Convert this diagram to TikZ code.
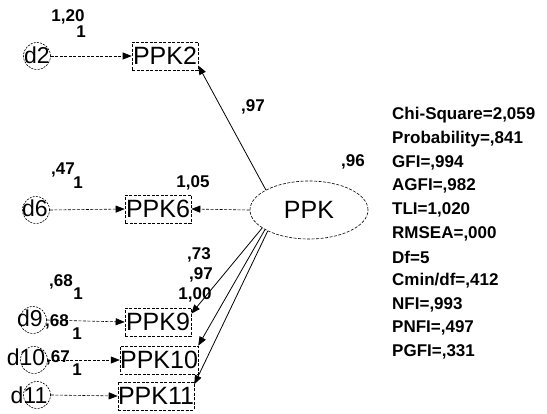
\documentclass[tikz,border=0pt]{standalone}
\usepackage{fontspec}
\setmainfont{Liberation Sans}
\usetikzlibrary{arrows.meta,shapes.geometric}
\begin{document}
\begin{tikzpicture}[x=1pt,y=-1pt,
  obs/.style={draw, dashed, dash pattern=on 3pt off 1.5pt, line width=0.6pt, inner sep=0pt,
    minimum width=66pt, minimum height=28pt, font=\fontsize{25}{25}\selectfont},
  errc/.style={draw, circle, dash pattern=on 2pt off 1.2pt, line width=0.6pt, inner sep=0pt, minimum size=27pt},
  errt/.style={inner sep=0pt, font=\fontsize{23}{23}\selectfont},
  lat/.style={draw, ellipse, dash pattern=on 3pt off 1.5pt, line width=0.6pt, fill=white, inner sep=0pt,
    minimum width=118pt, minimum height=58pt, font=\fontsize{25}{25}\selectfont},
  lbl/.style={inner sep=0pt, font=\bfseries\fontsize{17}{17}\selectfont},
  fit/.style={inner sep=0pt, anchor=west, font=\bfseries\fontsize{17}{17}\selectfont},
  tip/.style={-{Triangle[length=9pt,width=7pt]}},
  solidpath/.style={tip, line width=0.8pt},
  dashpath/.style={tip, line width=0.6pt, dash pattern=on 3pt off 1.5pt},
]
\useasboundingbox (0,0) rectangle (547,413);

% latent
\node[lat] (ppk) at (309,210) {PPK};

% indicators
\node[obs] (p2) at (165,56) {PPK2};
\node[obs] (p6) at (158,209) {PPK6};
\node[obs] (p9) at (158,322) {PPK9};
\node[obs] (p10) at (159,360) {PPK10};
\node[obs] (p11) at (156,396) {PPK11};

% error terms
\node[errc] (e2) at (37,56) {};
\node[errt] (t2) at (37,55) {d2};
\node[errc] (e6) at (36,210) {};
\node[errt] (t6) at (35,208) {d6};
\node[errc] (e9) at (33,320) {};
\node[errt] (t9) at (30,318) {d9};
\node[errc] (e10) at (34,360) {};
\node[errt] (t10) at (26,357) {d10};
\node[errc] (e11) at (37,395) {};
\node[errt] (t11) at (29,395) {d11};

% error paths
\draw[dashpath] (e2.east) -- (p2.west);
\draw[dashpath] (e6.east) -- (p6.west);
\draw[dashpath] (e9.east) -- (p9.west);
\draw[dashpath] (e10.east) -- (p10.west);
\draw[dashpath] (e11.east) -- (p11.west);

% loadings
\draw[solidpath] (ppk.155) -- (p2.-16);
\draw[dashpath] (ppk.west) -- (p6.east);
\draw[solidpath] (ppk.201) -- (p9.14);
\draw[solidpath] (ppk.204) -- (p10.20);
\draw[solidpath] (ppk.207) -- (p11.17);

% labels
\node[lbl] (l2) at (253,107) {,97};
\node[lbl] (l6) at (193,183) {1,05};
\node[lbl] (l9) at (199,255) {,73};
\node[lbl] (l10) at (201,275) {,97};
\node[lbl] (l11) at (195,295) {1,00};
\node[lbl] (lppk) at (353,162) {,96};

\node[lbl] (v2) at (68,17) {1,20};
\node[lbl] (o2) at (81,32) {1};
\node[lbl] (v6) at (63,170) {,47};
\node[lbl] (o6) at (78,183) {1};
\node[lbl] (v9) at (61,282) {,68};
\node[lbl] (o9) at (78,294) {1};
\node[lbl] (v10) at (57,322) {,68};
\node[lbl] (o10) at (77,334) {1};
\node[lbl] (v11) at (58,358) {,67};
\node[lbl] (o11) at (77,370) {1};

% fit statistics
\node[fit] (f1) at (392,115) {Chi-Square=2,059};
\node[fit] (f2) at (392,138.7) {Probability=,841};
\node[fit] (f3) at (392,162.4) {GFI=,994};
\node[fit] (f4) at (392,186.1) {AGFI=,982};
\node[fit] (f5) at (392,209.8) {TLI=1,020};
\node[fit] (f6) at (392,233.5) {RMSEA=,000};
\node[fit] (f7) at (392,257.2) {Df=5};
\node[fit] (f8) at (392,280.9) {Cmin/df=,412};
\node[fit] (f9) at (392,304.6) {NFI=,993};
\node[fit] (f10) at (392,328.3) {PNFI=,497};
\node[fit] (f11) at (392,352) {PGFI=,331};
\end{tikzpicture}
\end{document}
